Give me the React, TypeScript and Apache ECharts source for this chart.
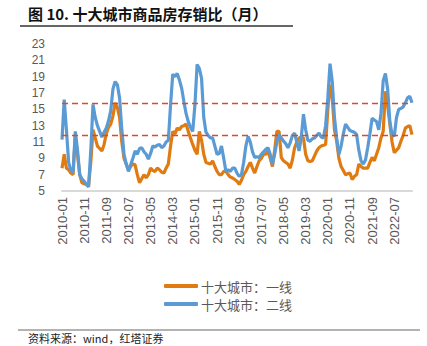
import React, { useEffect, useRef } from "react";
import * as echarts from "echarts";

const START_YEAR = 2010;
const MONTH_COUNT = 159;
const months: string[] = [];
for (let i = 0; i < MONTH_COUNT; i++) {
  const y = START_YEAR + Math.floor(i / 12);
  const m = (i % 12) + 1;
  months.push(`${y}-${m < 10 ? "0" + m : m}`);
}

const seriesNames = ["十大城市：一线", "十大城市：二线"];

const tier1 = [
  7.8, 9.5, 7.8, 7.6, 7.2, 7.0, 11.8, 9.5, 7.0, 6.0,
  5.9, 5.8, 5.7, 8.5, 12.5, 11.5, 10.5, 10.2, 9.9, 10.7,
  12.0, 12.8, 13.2, 14.2, 15.8, 15.2, 14.0, 11.0, 9.0, 8.3,
  7.6, 8.0, 8.3, 8.2, 7.0, 6.0, 6.5, 7.0, 6.6, 7.0,
  7.8, 7.5, 7.4, 7.8, 7.6, 7.3, 7.2, 7.8, 8.3, 10.5,
  12.3, 12.0, 12.7, 12.5, 12.9, 13.0, 13.2, 12.3, 11.5, 10.7,
  10.0, 9.5, 12.3, 11.2, 9.5, 8.5, 8.4, 8.3, 8.7, 8.0,
  7.4, 7.0, 7.0, 7.4, 7.4, 7.0, 6.7, 6.6, 6.4, 6.2,
  5.8, 6.3, 7.0, 7.4, 8.0, 8.5, 7.8, 7.2, 8.0, 8.7,
  9.0, 9.5, 9.5, 9.9, 9.0, 8.0, 10.0, 12.3, 12.3, 9.1,
  8.7, 8.5, 8.3, 7.8, 8.8, 10.3, 11.0, 11.5, 11.6, 11.5,
  9.5, 8.7, 8.6, 8.7, 9.3, 9.9, 10.3, 10.5, 10.6, 10.7,
  15.0, 18.0, 16.4, 12.5, 11.1, 9.0, 8.0, 7.5, 7.0, 7.1,
  7.2, 6.4, 6.8, 7.0, 8.3, 8.0, 7.8, 7.8, 7.8, 8.5,
  9.1, 8.7, 9.5, 10.3, 11.5, 12.3, 17.2, 15.5, 13.2, 11.0,
  9.7, 10.0, 10.3, 11.1, 11.8, 12.7, 12.9, 13.0, 11.9,
];

const tier2 = [
  11.3, 16.2, 12.5, 8.5, 7.5, 7.3, 12.3, 10.0, 7.0, 6.5,
  6.2, 5.8, 5.5, 10.0, 15.6, 14.0, 13.0, 12.3, 11.6, 12.2,
  12.7, 13.6, 14.8, 17.5, 18.4, 18.0, 16.4, 12.5, 9.5, 8.3,
  7.4, 8.2, 9.0, 9.9, 9.5, 10.2, 10.3, 9.8, 9.5, 8.9,
  9.6, 10.5, 10.4, 10.6, 10.7, 10.3, 10.5, 11.0, 11.2, 15.5,
  19.3, 19.0, 19.4, 18.6, 17.6, 16.0, 14.5, 13.5, 12.8, 12.3,
  15.5, 20.5, 20.0, 18.8, 14.0, 12.2, 11.8, 11.5, 11.5, 10.5,
  9.5, 9.6, 10.5, 9.0, 7.4, 7.6, 7.4, 7.8, 7.8, 7.2,
  6.8, 7.0, 8.5, 10.5, 11.7, 11.0, 9.8, 9.1, 9.2, 9.1,
  9.5, 9.8, 10.1, 10.3, 9.5, 8.3, 9.5, 11.0, 11.9, 11.5,
  11.1, 10.8, 10.3, 10.9, 11.8, 12.1, 11.0, 9.9, 11.5, 14.4,
  12.5, 11.2, 11.1, 11.4, 11.5, 11.8, 12.1, 11.6, 11.5, 13.0,
  16.4, 20.6, 18.4, 14.0, 11.5, 9.5, 10.5, 12.0, 13.2, 12.8,
  12.4, 12.3, 12.2, 11.9, 10.0, 8.7, 8.3, 8.8, 10.3, 12.0,
  13.9, 13.7, 13.5, 12.5, 14.5, 18.5, 19.4, 17.5, 13.5, 11.9,
  11.7, 14.0, 15.0, 15.1, 15.3, 15.8, 16.4, 16.6, 15.8,
];

const refLines = [15.7, 11.8];
const Y_MIN = 5;
const Y_MAX = 23;
const Y_STEP = 2;

const TITLE = "图 10. 十大城市商品房存销比（月）";
const SOURCE = "资料来源：wind，红塔证券";

export default function App() {
  const ref = useRef<HTMLDivElement>(null);
  useEffect(() => {
    if (!ref.current) return;
    const chart = echarts.init(ref.current, null, { renderer: "svg" });
    const numFont = "'Liberation Sans', Arial, sans-serif";
    const cjkFont = "'Noto Sans CJK SC', sans-serif";
    chart.setOption({
      animation: false,
      backgroundColor: "#ffffff",
      grid: { left: 62, right: 15, top: 44, bottom: 155, containLabel: false },
      xAxis: {
        type: "category",
        data: months,
        boundaryGap: false,
        axisLine: { show: true, lineStyle: { color: "#d9d9d9", width: 2 } },
        axisTick: { show: false },
        splitLine: { show: false },
        axisLabel: {
          interval: 9,
          rotate: 90,
          fontSize: 13,
          color: "#595959",
          fontFamily: numFont,
          margin: 6,
        },
      },
      yAxis: {
        type: "value",
        min: Y_MIN,
        max: Y_MAX,
        interval: Y_STEP,
        axisLine: { show: false },
        axisTick: { show: false },
        splitLine: { show: false },
        axisLabel: {
          fontSize: 12,
          color: "#595959",
          fontFamily: numFont,
          margin: 17,
        },
      },
      legend: {
        orient: "vertical",
        left: 159,
        top: 274,
        itemWidth: 34,
        itemHeight: 4,
        itemGap: 4,
        icon: "roundRect",
        textStyle: {
          fontSize: 13,
          lineHeight: 14,
          color: "#595959",
          fontFamily: cjkFont,
          padding: [0, 0, 0, -2],
        },
        data: seriesNames,
      },
      series: [
        {
          name: seriesNames[0],
          type: "line",
          data: tier1,
          showSymbol: false,
          symbol: "none",
          lineStyle: { color: "#e07b12", width: 3.2 },
          itemStyle: { color: "#e07b12" },
          z: 2,
          markLine: {
            silent: true,
            symbol: "none",
            label: { show: false },
            lineStyle: { color: "#dc4a2a", width: 1.3, type: [6, 4] },
            data: refLines.map((v) => ({ yAxis: v })),
          },
        },
        {
          name: seriesNames[1],
          type: "line",
          data: tier2,
          showSymbol: false,
          symbol: "none",
          lineStyle: { color: "#5b9bd5", width: 3.2 },
          itemStyle: { color: "#5b9bd5" },
          z: 3,
        },
      ],
      graphic: [
        {
          type: "text",
          left: 28,
          top: 6,
          style: {
            text: TITLE,
            fontSize: 15,
            fontWeight: "bold",
            fill: "#111111",
            fontFamily: cjkFont,
          },
        },
        {
          type: "line",
          shape: { x1: 20, y1: 26, x2: 293, y2: 26 },
          style: { stroke: "#333333", lineWidth: 1.5 },
        },
        {
          type: "line",
          shape: { x1: 18, y1: 330, x2: 420, y2: 330 },
          style: { stroke: "#666666", lineWidth: 1 },
        },
        {
          type: "text",
          left: 28,
          top: 332,
          style: {
            text: SOURCE,
            fontSize: 11,
            fill: "#222222",
            fontFamily: cjkFont,
          },
        },
      ],
    });
    return () => chart.dispose();
  }, []);
  return (
    <div
      ref={ref}
      style={{ position: "fixed", left: 0, top: 0, width: 427, height: 346 }}
    />
  );
}
